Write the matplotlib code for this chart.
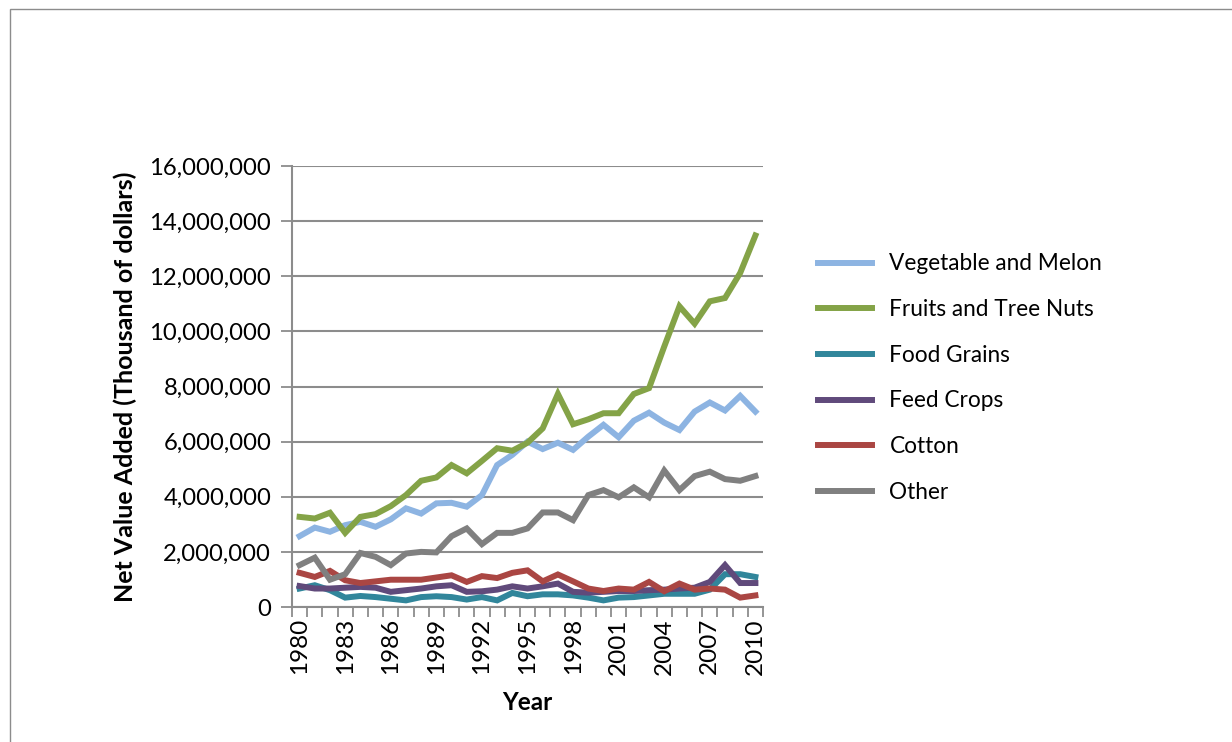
import matplotlib
matplotlib.use('Agg')
import matplotlib.pyplot as plt
from matplotlib.patches import Rectangle
import numpy as np

plt.rcParams['font.family'] = ['Lato', 'DejaVu Sans']

years = list(range(1980, 2011))

# values in thousand of dollars (millions here)
vegetable = [2.57, 2.88, 2.73, 2.97, 3.09, 2.91, 3.18, 3.58, 3.39, 3.76,
             3.78, 3.64, 4.06, 5.15, 5.52, 6.00, 5.73, 5.96, 5.70, 6.18,
             6.61, 6.16, 6.76, 7.05, 6.69, 6.42, 7.09, 7.42, 7.13, 7.66, 7.09]
fruits = [3.27, 3.21, 3.42, 2.69, 3.27, 3.37, 3.66, 4.06, 4.58, 4.70,
          5.15, 4.85, 5.30, 5.76, 5.67, 5.96, 6.48, 7.73, 6.63, 6.81,
          7.03, 7.03, 7.73, 7.94, 9.45, 10.91, 10.28, 11.09, 11.21, 12.12, 13.48]
food_grains = [0.67, 0.79, 0.61, 0.34, 0.40, 0.36, 0.30, 0.24, 0.36, 0.39,
               0.36, 0.27, 0.36, 0.24, 0.51, 0.39, 0.46, 0.46, 0.42, 0.34,
               0.24, 0.34, 0.36, 0.42, 0.48, 0.48, 0.48, 0.63, 1.19, 1.19, 1.09]
feed_crops = [0.76, 0.67, 0.67, 0.70, 0.73, 0.70, 0.55, 0.61, 0.67, 0.75,
              0.79, 0.55, 0.57, 0.63, 0.75, 0.67, 0.75, 0.85, 0.55, 0.52,
              0.55, 0.58, 0.58, 0.61, 0.63, 0.67, 0.70, 0.91, 1.52, 0.87, 0.87]
cotton = [1.24, 1.09, 1.31, 0.97, 0.87, 0.93, 0.99, 0.99, 0.99, 1.07,
          1.15, 0.91, 1.12, 1.05, 1.24, 1.33, 0.93, 1.18, 0.93, 0.67,
          0.58, 0.67, 0.63, 0.91, 0.57, 0.85, 0.63, 0.67, 0.63, 0.34, 0.42]
other = [1.52, 1.79, 0.99, 1.19, 1.96, 1.82, 1.52, 1.94, 2.00, 1.98,
         2.57, 2.85, 2.28, 2.69, 2.69, 2.85, 3.43, 3.43, 3.15, 4.06,
         4.24, 3.98, 4.34, 3.98, 4.95, 4.24, 4.75, 4.91, 4.64, 4.58, 4.75]

series = [('Vegetable and Melon', vegetable, '#8db4e2'),
          ('Fruits and Tree Nuts', fruits, '#84a347'),
          ('Food Grains', food_grains, '#31869b'),
          ('Feed Crops', feed_crops, '#604a7b'),
          ('Cotton', cotton, '#aa4643'),
          ('Other', other, '#808080')]

fig = plt.figure(figsize=(12.32, 7.42), dpi=100)
fig.patches.append(Rectangle((10 / 1232, -0.1), 1.2, 1 - 9 / 742 + 0.1,
                             transform=fig.transFigure, fill=False,
                             edgecolor='#8c8c8c', linewidth=1.0))

ax = fig.add_axes([292 / 1232, 1 - 607 / 742, 471 / 1232, 441 / 742])
x = np.arange(len(years))
for name, vals, col in series:
    ax.plot(x, np.array(vals) * 1e6, color=col, linewidth=4.3,
            solid_joinstyle='miter', label=name)

ax.set_xlim(-0.5, len(years) - 0.5)
ax.set_ylim(0, 16e6)
ax.set_yticks(np.arange(0, 16e6 + 1, 2e6))
ax.set_yticklabels(['{:,}'.format(int(v)) for v in np.arange(0, 16e6 + 1, 2e6)])
ax.yaxis.grid(True, color='#8c8c8c', linewidth=1.5)
ax.set_axisbelow(True)

ax.set_xticks(np.arange(-0.5, len(years), 1))
ax.set_xticklabels([])
ax.set_xticks(x[::3], minor=True)
ax.set_xticklabels([str(y) for y in years[::3]], minor=True, rotation=90)
ax.tick_params(axis='x', which='major', length=7, width=1.3, color='#8c8c8c')
ax.tick_params(axis='x', which='minor', length=0, pad=8, labelsize=17.5)
ax.tick_params(axis='y', length=8, width=1.3, color='#8c8c8c', labelsize=17.2, pad=7)

for s in ['top', 'right']:
    ax.spines[s].set_visible(False)
for s in ['left', 'bottom']:
    ax.spines[s].set_color('#8c8c8c')
    ax.spines[s].set_linewidth(1.5)

ax.set_xlabel('Year', fontsize=17.5, fontweight='bold', labelpad=12)
ax.set_ylabel('Net Value Added (Thousand of dollars)', fontsize=18,
              fontweight='bold', labelpad=9)

ax.legend(loc='center left', bbox_to_anchor=(1.117, 0.519), frameon=False,
          fontsize=16.3, handlelength=2.4, handletextpad=0.75,
          labelspacing=1.09, borderpad=0, borderaxespad=0)

fig.savefig('out.png', dpi=100)
